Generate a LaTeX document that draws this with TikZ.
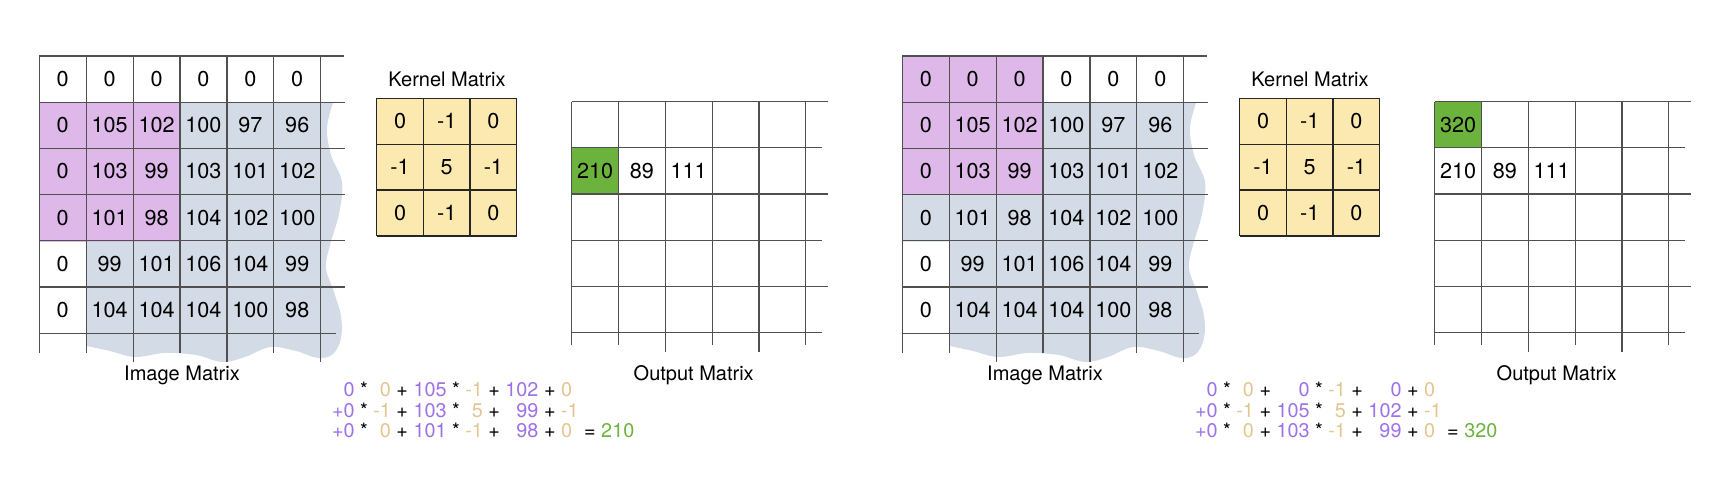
\documentclass[tikz,border=0pt]{standalone}
\usepackage{fontspec}
\setmainfont{TeX Gyre Heros}
\usepackage{array}

\definecolor{imgpurple}{HTML}{DDB8E8}
\definecolor{imgback}{HTML}{D3DCE6}
\definecolor{kernfill}{HTML}{FCE9AF}
\definecolor{outgreen}{HTML}{6CB33E}
\definecolor{sumpurple}{HTML}{9D71E8}
\definecolor{sumtan}{HTML}{E3C58F}
\definecolor{sumgreen}{HTML}{6CB33E}
\definecolor{gridcol}{HTML}{505050}

\tikzset{
  cell/.style={inner sep=0pt, font=\fontsize{10.8}{12}\selectfont},
  title/.style={inner sep=0pt, font=\fontsize{10}{12}\selectfont},
  gridline/.style={draw=gridcol, line width=0.6pt},
  kernline/.style={draw=black!85, line width=0.6pt},
  sum/.style={inner sep=0pt, anchor=north west, font=\fontsize{9.9}{10.35}\selectfont}
}

\begin{document}
\begin{tikzpicture}[x=0.5pt,y=-0.5pt]
\useasboundingbox (0,0) rectangle (1732,486);

% both panels share the grids, the image values and the kernel
\foreach \pan/\dx/\py/\gy in {L/0/102.7/147.9, R/863/56/101.7} {
\begin{scope}[shift={(\dx,0)}, name prefix=\pan-]
  % image matrix
  \fill[imgback] (39.3,102.7) -- (333,102.7) -- plot[smooth, tension=0.6] coordinates {
    (333,102.7) (327,128) (331,155) (342,182) (339,214) (330,245) (326,268)
    (334,292) (341,316) (341,338) (333,354) (318,358) (296,351) (270,347)
    (245,357) (222,362) (196,355) (165,353) (135,357) (110,351) (86.7,346)}
    -- (86.7,241.7) -- (39.3,241.7) -- cycle;
  \fill[imgpurple] (39.3,\py) rectangle (180,{\py+139});
  \foreach \r/\xe in {0/344,1/345,2/345,3/345,4/345,5/345,6/336}
    \draw[gridline] (39.3,{56+46.2*\r}) -- (\xe,{56+46.2*\r});
  \foreach \c/\ye in {0/353,1/353,2/362,3/353,4/362,5/353,6/362}
    \draw[gridline] ({39.3+46.9*\c},56) -- ({39.3+46.9*\c},\ye);
  \foreach \vals [count=\r from 0] in {{0,0,0,0,0,0},{0,105,102,100,97,96},
      {0,103,99,103,101,102},{0,101,98,104,102,100},{0,99,101,106,104,99},
      {0,104,104,104,100,98}}
    \foreach \v [count=\c from 0] in \vals
      \node[cell] (img-\r-\c) at ({39.3+46.9*(\c+0.5)},{56+46.2*(\r+0.5)}) {\v};
  \node[title] (imgtitle) at (182,375.5) {Image Matrix};

  % kernel matrix
  \fill[kernfill] (376.7,98.3) rectangle (516.7,236);
  \foreach \k in {0,...,3} {
    \draw[kernline] ({376.7+46.67*\k},98.3) -- ({376.7+46.67*\k},236);
    \draw[kernline] (376.7,{98.3+45.9*\k}) -- (516.7,{98.3+45.9*\k});
  }
  \foreach \vals [count=\r from 0] in {{0,-1,0},{-1,5,-1},{0,-1,0}}
    \foreach \v [count=\c from 0] in \vals
      \node[cell] (ker-\r-\c) at ({376.7+46.67*(\c+0.5)},{98.3+45.9*(\r+0.5)}) {\v};
  \node[title] (kertitle) at (447,79.5) {Kernel Matrix};

  % output matrix
  \fill[outgreen] (571.7,\gy) rectangle (618.5,{\gy+46.2});
  \foreach \r/\xe in {0/828,1/821.7,2/828,3/821.7,4/828,5/821.7}
    \draw[gridline] (571.7,{101.7+46.2*\r}) -- (\xe,{101.7+46.2*\r});
  \foreach \c/\ye in {0/345,1/345,2/351.7,3/345,4/351.7,5/345}
    \draw[gridline] ({571.7+46.8*\c},101.7) -- ({571.7+46.8*\c},\ye);
  \foreach \v [count=\c from 0] in {210,89,111}
    \node[cell] (out-1-\c) at ({571.7+46.8*(\c+0.5)},{101.7+46.2*1.5}) {\v};
  \node[title] (outtitle) at (693.7,375.5) {Output Matrix};
\end{scope}
}

\node[cell] (R-out-0-0) at ({863+571.7+23.4},{101.7+23.1}) {320};

% the sums
\node[sum] (L-sum) at (331.7,381.5) {%
  \begin{tabular}{@{}>{\color{sumpurple}}r@{\ *\ }>{\color{sumtan}}r@{\ +\ }>{\color{sumpurple}}r@{\ *\ }>{\color{sumtan}}r@{\ +\ }>{\color{sumpurple}}r@{\ +\ }>{\color{sumtan}}l@{}l@{}}
    0  & 0  & 105 & -1 & 102 & 0  \\
    +0 & -1 & 103 & 5  & 99  & -1 \\
    +0 & 0  & 101 & -1 & 98  & 0  & \ = \textcolor{sumgreen}{210}
  \end{tabular}};
\node[sum] (R-sum) at (1194.7,381.5) {%
  \begin{tabular}{@{}>{\color{sumpurple}}r@{\ *\ }>{\color{sumtan}}r@{\ +\ }>{\color{sumpurple}}r@{\ *\ }>{\color{sumtan}}r@{\ +\ }>{\color{sumpurple}}r@{\ +\ }>{\color{sumtan}}l@{}l@{}}
    0  & 0  & 0   & -1 & 0   & 0  \\
    +0 & -1 & 105 & 5  & 102 & -1 \\
    +0 & 0  & 103 & -1 & 99  & 0  & \ = \textcolor{sumgreen}{320}
  \end{tabular}};
\end{tikzpicture}
\end{document}
